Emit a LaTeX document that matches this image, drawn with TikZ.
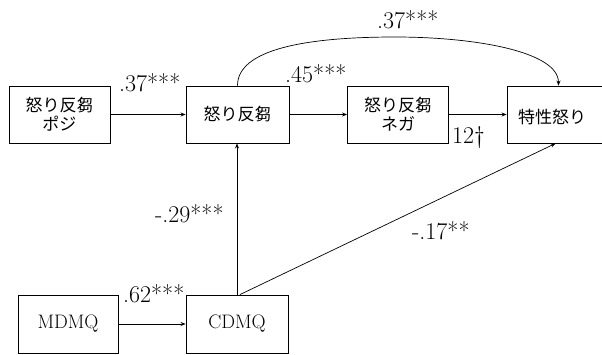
\documentclass[tikz,border=0pt]{standalone}
\usepackage{fontspec}
\newfontfamily\jpfont{Noto Sans CJK JP}
\usetikzlibrary{arrows.meta}
\begin{document}
\begin{tikzpicture}[x=1pt,y=-1pt,
  boxnode/.style={draw, line width=0.9pt, minimum height=57pt, inner sep=0pt, align=center, font=\jpfont\fontsize{17}{19}\selectfont},
  latinbox/.style={boxnode, minimum height=58pt, font=\fontsize{19.5}{22}\selectfont},
  jptext/.style={inner sep=0pt, font=\jpfont\fontsize{17}{19}\selectfont},
  coef/.style={anchor=base west, inner sep=0pt, font=\fontsize{24}{26}\selectfont},
  arr/.style={-{Stealth[length=5pt,width=4pt]}, line width=0.7pt}]
\useasboundingbox (0,0) rectangle (602,354);
\clip (0,0) rectangle (602,354);
\fill[white] (0,0) rectangle (602,354);

\node[boxnode, minimum width=101pt] (pos) at (59.5,114.5) {怒り反芻\\ポジ};
\node[boxnode, minimum width=103pt] (rum) at (237.5,114.5) {怒り反芻};
\node[boxnode, minimum width=101pt] (neg) at (398,114.5) {怒り反芻\\ネガ};
\node[boxnode, minimum width=103pt] (trait) at (558.5,114.5) {};
\node[jptext] (traitlabel) at (552,117) {特性怒り};
\node[latinbox, minimum width=100pt] (mdmq) at (68,324) {MDMQ};
\node[latinbox, minimum width=102pt] (cdmq) at (237,324) {CDMQ};

\draw[arr] (pos) -- (rum);
\draw[arr] (rum) -- (neg);
\draw[arr] (neg) -- (trait);
\draw[arr] (mdmq) -- (cdmq);
\draw[arr] (cdmq.north) -- (cdmq.north |- rum.south);
\coordinate (cstart) at ([xshift=3pt]cdmq.north);
\draw[arr] (cstart) -- ([xshift=-3pt]trait.south);
\coordinate (arctop) at (395,37);
\draw[arr] (rum.north) .. controls +(0,-36) and +(-90,0) .. (arctop) .. controls +(80,0) and +(0,-34) .. (trait.north);

\node[coef] (l1) at (119,91) {.37***};
\node[coef] (l2) at (285,82) {.45***};
\node[coef] (l3) at (377,28) {.37***};
\node[coef] (l4) at (452,143) {12\textdagger};
\node[coef] (l5) at (155,222) {-.29***};
\node[coef] (l6) at (123,302) {.62***};
\node[coef] (l7) at (412,239) {-.17**};
\end{tikzpicture}
\end{document}
